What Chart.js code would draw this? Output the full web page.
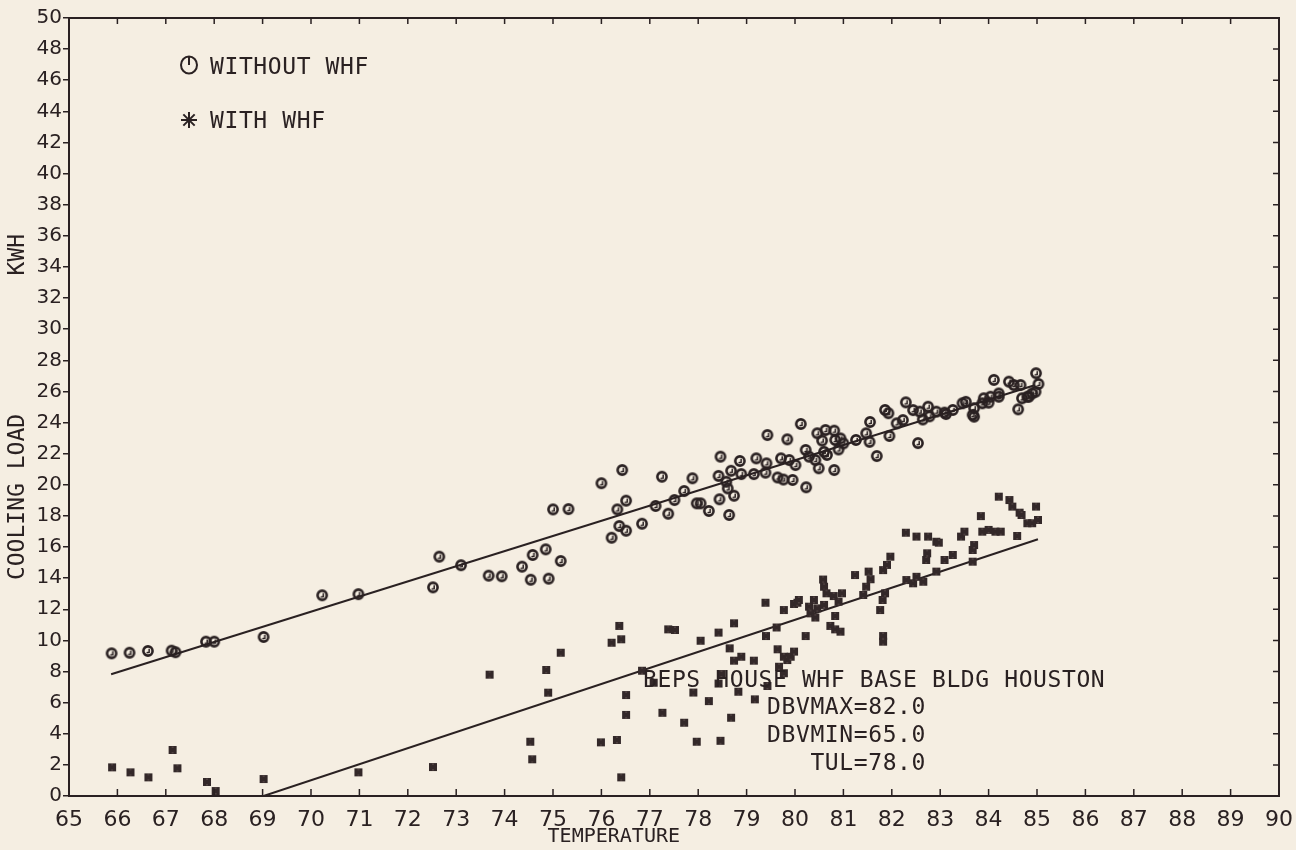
<!doctype html>
<html>
<head>
<meta charset="utf-8">
<script src="https://cdn.jsdelivr.net/npm/chart.js"></script>
<style>
    body {
        margin: 0px;
        background-color: #f5eee2;
    }
    #chart {
        display: block;
    }
</style>
</head>
<body>
<canvas id="chart" width="1296" height="850"></canvas>
<script>
// --- data ---
const tempRange = [65, 90];
const loadRange = [0, 50];

// without WHF (circles)
const tempWithout = [65.88, 66.25, 66.63, 67.12, 67.20, 67.83, 68.00, 69.02, 70.23, 70.98,
    72.52, 72.65, 73.10, 73.67, 73.94, 74.36, 74.54, 74.58, 74.85, 74.91,
    75.00, 75.16, 75.32, 76.00, 76.21, 76.33, 76.37, 76.43, 76.51, 76.51,
    76.84, 77.12, 77.25, 77.38, 77.51, 77.71, 77.88, 77.97, 78.05, 78.22,
    78.42, 78.44, 78.46, 78.58, 78.61, 78.64, 78.68, 78.74, 78.86, 78.89,
    79.15, 79.20, 79.39, 79.41, 79.43, 79.64, 79.71, 79.76, 79.84, 79.88,
    79.95, 80.01, 80.12, 80.22, 80.23, 80.29, 80.42, 80.46, 80.49, 80.56,
    80.60, 80.63, 80.66, 80.81, 80.81, 80.83, 80.90, 80.94, 81.00, 81.26,
    81.47, 81.54, 81.55, 81.69, 81.86, 81.93, 81.95, 82.10, 82.23, 82.29,
    82.44, 82.54, 82.58, 82.64, 82.75, 82.78, 82.92, 83.09, 83.12, 83.26,
    83.46, 83.53, 83.67, 83.70, 83.70, 83.87, 83.90, 84.00, 84.04, 84.11,
    84.21, 84.21, 84.42, 84.52, 84.61, 84.66, 84.69, 84.80, 84.83, 84.90,
    84.97, 84.98, 85.03];
const loadWithout = [9.17, 9.21, 9.32, 9.34, 9.24, 9.92, 9.92, 10.22, 12.90, 12.97,
    13.41, 15.38, 14.83, 14.16, 14.12, 14.74, 13.90, 15.49, 15.85, 13.97,
    18.42, 15.10, 18.44, 20.10, 16.60, 18.42, 17.35, 20.95, 17.05, 18.98,
    17.50, 18.64, 20.52, 18.14, 19.02, 19.60, 20.42, 18.81, 18.81, 18.32,
    20.57, 19.07, 21.81, 20.20, 19.77, 18.06, 20.90, 19.30, 21.53, 20.69,
    20.69, 21.70, 20.78, 21.38, 23.20, 20.47, 21.70, 20.34, 22.92, 21.59,
    20.31, 21.27, 23.91, 22.24, 19.84, 21.81, 21.59, 23.31, 21.06, 22.84,
    22.12, 23.52, 21.92, 23.48, 20.95, 22.88, 22.27, 22.98, 22.66, 22.88,
    23.31, 22.76, 24.04, 21.85, 24.81, 24.60, 23.14, 23.95, 24.16, 25.30,
    24.80, 22.68, 24.70, 24.20, 25.02, 24.40, 24.70, 24.64, 24.55, 24.81,
    25.24, 25.33, 24.49, 24.92, 24.38, 25.24, 25.56, 25.28, 25.66, 26.74,
    25.66, 25.87, 26.63, 26.41, 24.85, 26.41, 25.56, 25.66, 25.66, 25.87,
    25.98, 27.17, 26.48];

// with WHF (stars)
const tempWith = [65.89, 66.27, 66.64, 67.14, 67.24, 67.85, 68.03, 69.02, 70.98, 72.52,
    73.69, 74.53, 74.57, 74.86, 74.90, 75.16, 75.99, 76.21, 76.32, 76.37,
    76.41, 76.41, 76.51, 76.51, 76.84, 77.08, 77.26, 77.38, 77.52, 77.71,
    77.90, 77.97, 78.05, 78.22, 78.42, 78.42, 78.46, 78.48, 78.65, 78.68,
    78.74, 78.74, 78.83, 78.89, 79.15, 79.17, 79.39, 79.40, 79.43, 79.62,
    79.64, 79.67, 79.77, 79.77, 79.77, 79.84, 79.91, 79.98, 79.98, 80.05,
    80.08, 80.22, 80.29, 80.32, 80.39, 80.42, 80.46, 80.58, 80.60, 80.60,
    80.65, 80.73, 80.80, 80.83, 80.83, 80.90, 80.94, 80.97, 81.24, 81.41,
    81.47, 81.52, 81.56, 81.76, 81.81, 81.82, 81.82, 81.82, 81.86, 81.90,
    81.97, 82.29, 82.30, 82.44, 82.51, 82.51, 82.65, 82.71, 82.73, 82.75,
    82.92, 82.92, 82.97, 83.09, 83.26, 83.43, 83.50, 83.67, 83.67, 83.70,
    83.84, 83.87, 84.00, 84.14, 84.21, 84.25, 84.43, 84.49, 84.59, 84.64,
    84.68, 84.80, 84.90, 84.98, 85.02];
const loadWith = [1.84, 1.52, 1.20, 2.96, 1.78, 0.90, 0.32, 1.09, 1.52, 1.86,
    7.80, 3.49, 2.36, 8.10, 6.64, 9.21, 3.45, 9.85, 3.60, 10.93,
    10.07, 1.20, 6.49, 5.21, 8.05, 7.28, 5.35, 10.71, 10.67, 4.71,
    6.65, 3.49, 9.98, 6.10, 10.50, 7.23, 3.55, 7.84, 9.49, 5.03,
    11.10, 8.70, 6.70, 8.95, 8.70, 6.21, 12.42, 10.28, 7.07, 10.83,
    9.43, 8.31, 11.95, 8.95, 7.89, 8.74, 8.95, 9.28, 12.34, 12.42,
    12.60, 10.28, 12.17, 11.74, 12.60, 11.47, 12.06, 13.91, 13.45, 12.28,
    13.03, 10.93, 12.85, 11.57, 10.71, 12.49, 10.56, 13.03, 14.20, 12.92,
    13.45, 14.42, 13.93, 11.95, 12.60, 14.52, 10.28, 9.92, 13.03, 14.85,
    15.38, 16.92, 13.88, 13.67, 16.67, 14.09, 13.77, 15.17, 15.60, 16.67,
    16.34, 14.42, 16.28, 15.17, 15.49, 16.67, 16.99, 15.81, 15.06, 16.13,
    17.99, 16.99, 17.10, 16.99, 19.24, 16.99, 19.02, 18.60, 16.71, 18.21,
    18.06, 17.53, 17.53, 18.60, 17.74];

// fitted lines
const fitTempWithout = [65.87, 84.95];
const fitLoadWithout = [7.82, 26.40];
const fitTempWith = [69.02, 85.02];
const fitLoadWith = [0.0, 16.50];

const INK = '#2a2122';

function toPoints(xs, ys) {
    return xs.map((x, i) => ({ x: x, y: ys[i] }));
}

// plotter style markers
function circleMark() {
    const c = document.createElement('canvas');
    c.width = 14; c.height = 14;
    const g = c.getContext('2d');
    g.strokeStyle = INK;
    g.lineWidth = 2.6;
    g.beginPath();
    g.arc(7, 7, 4.6, 0, Math.PI * 2);
    g.stroke();
    g.lineWidth = 1.5;
    g.beginPath();
    g.moveTo(8.2, 4.8);
    g.lineTo(8.2, 8.3);
    g.lineTo(5.6, 8.7);
    g.stroke();
    return c;
}

function starMark() {
    const c = document.createElement('canvas');
    c.width = 10; c.height = 10;
    const g = c.getContext('2d');
    g.fillStyle = '#332829';
    g.fillRect(1, 1, 8, 8);
    g.strokeStyle = 'rgba(150,130,125,0.7)';
    g.lineWidth = 0.8;
    g.beginPath();
    g.moveTo(5, 1.5); g.lineTo(5, 3);
    g.moveTo(5, 7); g.lineTo(5, 8.5);
    g.stroke();
    return c;
}

function spacedText(ctx, str, x, y, align) {
    ctx.save();
    ctx.fillStyle = INK;
    ctx.font = '23px "DejaVu Sans Mono"';
    ctx.letterSpacing = '0.6px';
    ctx.textAlign = align || 'left';
    ctx.textBaseline = 'alphabetic';
    ctx.fillText(str, x, y);
    ctx.restore();
}

const plotterExtras = {
    id: 'plotterExtras',
    afterDraw(chart) {
        const ctx = chart.ctx;
        const a = chart.chartArea;
        const xs = chart.scales.x;
        const ys = chart.scales.y;
        ctx.save();
        ctx.strokeStyle = INK;

        // top and right frame lines
        ctx.lineWidth = 2;
        ctx.beginPath();
        ctx.moveTo(a.left, a.top);
        ctx.lineTo(a.right, a.top);
        ctx.lineTo(a.right, a.bottom);
        ctx.stroke();

        // inward ticks on bottom, top and right
        ctx.lineWidth = 1.5;
        ctx.beginPath();
        for (let v = tempRange[0] + 1; v < tempRange[1]; v++) {
            const px = xs.getPixelForValue(v);
            ctx.moveTo(px, a.bottom);
            ctx.lineTo(px, a.bottom - 7);
            ctx.moveTo(px, a.top);
            ctx.lineTo(px, a.top + 6);
        }
        for (let v = loadRange[0] + 2; v < loadRange[1]; v += 2) {
            const py = ys.getPixelForValue(v);
            ctx.moveTo(a.right, py);
            ctx.lineTo(a.right - 6, py);
        }
        ctx.stroke();

        // legend
        ctx.lineWidth = 2;
        ctx.beginPath();
        ctx.ellipse(189, 65, 8, 8.5, 0, 0, Math.PI * 2);
        ctx.moveTo(189, 56.5);
        ctx.lineTo(189, 65);
        ctx.stroke();
        ctx.beginPath();
        const sx = 189, sy = 120, r = 8;
        for (let k = 0; k < 4; k++) {
            const ang = k * Math.PI / 4;
            ctx.moveTo(sx - r * Math.cos(ang), sy - r * Math.sin(ang));
            ctx.lineTo(sx + r * Math.cos(ang), sy + r * Math.sin(ang));
        }
        ctx.stroke();
        ctx.restore();

        spacedText(ctx, 'WITHOUT WHF', 210, 74);
        spacedText(ctx, 'WITH WHF', 210, 128);

        // run notes
        spacedText(ctx, 'BEPS HOUSE WHF BASE BLDG HOUSTON', 643, 687);
        spacedText(ctx, 'DBVMAX=82.0', 926, 714, 'right');
        spacedText(ctx, 'DBVMIN=65.0', 926, 742, 'right');
        spacedText(ctx, 'TUL=78.0', 926, 770, 'right');
    }
};

const data = {
    datasets: [
        {
            label: 'WITHOUT WHF',
            data: toPoints(tempWithout, loadWithout),
            pointStyle: circleMark(),
            pointRadius: 6
        },
        {
            label: 'WITH WHF',
            data: toPoints(tempWith, loadWith),
            pointStyle: starMark(),
            pointRadius: 5
        },
        {
            label: 'fit without',
            data: toPoints(fitTempWithout, fitLoadWithout),
            showLine: true,
            pointRadius: 0,
            borderColor: INK,
            borderWidth: 2
        },
        {
            label: 'fit with',
            data: toPoints(fitTempWith, fitLoadWith),
            showLine: true,
            pointRadius: 0,
            borderColor: INK,
            borderWidth: 2
        }
    ]
};

const config = {
    type: 'scatter',
    data: data,
    options: {
        responsive: false,
        animation: false,
        layout: { padding: { top: 18, right: 11, left: 0, bottom: 0 } },
        plugins: {
            legend: { display: false },
            tooltip: { enabled: false }
        },
        scales: {
            x: {
                type: 'linear',
                min: tempRange[0],
                max: tempRange[1],
                afterFit: function (scale) { scale.height = 54; },
                ticks: {
                    stepSize: 1,
                    color: INK,
                    padding: 3,
                    maxRotation: 0,
                    autoSkip: false,
                    font: { family: '"DejaVu Sans"', size: 22 }
                },
                grid: { display: false },
                border: { display: true, color: INK, width: 2 },
                title: {
                    display: true,
                    text: 'TEMPERATURE          ',
                    color: INK,
                    padding: { top: 0, bottom: 1 },
                    font: { family: '"DejaVu Sans Mono"', size: 20 }
                }
            },
            y: {
                type: 'linear',
                min: loadRange[0],
                max: loadRange[1],
                afterFit: function (scale) { scale.width = 69; },
                ticks: {
                    stepSize: 2,
                    color: INK,
                    padding: 1,
                    font: { family: '"DejaVu Sans"', size: 20 }
                },
                grid: {
                    display: true,
                    drawOnChartArea: false,
                    drawTicks: true,
                    tickLength: 6,
                    color: INK,
                    lineWidth: 1.5
                },
                border: { display: true, color: INK, width: 2 },
                title: {
                    display: true,
                    text: 'COOLING LOAD          KWH',
                    color: INK,
                    padding: { top: 4, bottom: 0 },
                    font: { family: '"DejaVu Sans Mono"', size: 23 }
                }
            }
        }
    },
    plugins: [plotterExtras]
};

const myChart = new Chart(document.getElementById('chart'), config);
</script>
</body>
</html>
